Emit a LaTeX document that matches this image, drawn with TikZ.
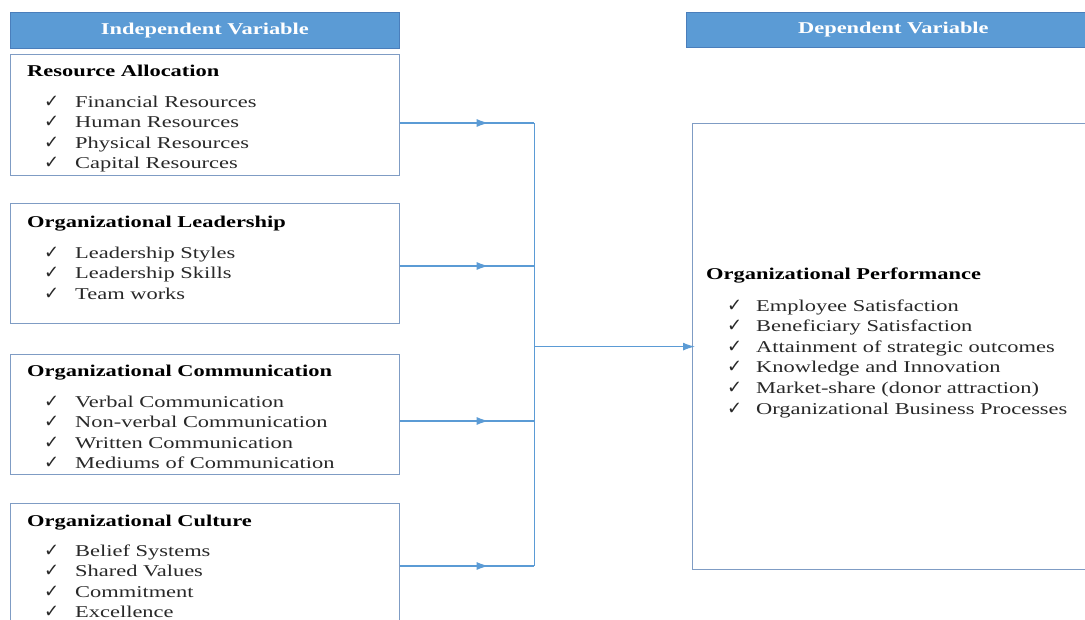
\documentclass[tikz,border=0pt]{standalone}
\usepackage{fontspec}
\setmainfont{Liberation Serif}[FakeStretch=1.36]
\newfontfamily\symfont{DejaVu Sans}
\usetikzlibrary{arrows.meta,positioning,decorations.markings}
\definecolor{hdrblue}{HTML}{5B9BD5}
\definecolor{hdrline}{HTML}{4A7EBB}
\definecolor{boxline}{HTML}{7F9CC4}
\definecolor{linkblue}{HTML}{5B9BD5}
\definecolor{itemgray}{RGB}{40,40,40}
\newcommand{\chk}{{\symfont\fontsize{18}{20}\selectfont ✓}}
\newcommand{\itm}[1]{\makebox[31pt][l]{\chk}#1}
\tikzset{
  hdr/.style={rectangle, draw=hdrline, fill=hdrblue, line width=0.8pt, text=white,
              font=\fontsize{16.5}{20}\selectfont\bfseries, inner sep=0pt, anchor=north west},
  catbox/.style={rectangle, draw=boxline, line width=1.2pt, inner sep=0pt, anchor=north west},
  ttl/.style={anchor=base west, inner sep=0pt, font=\fontsize{16.5}{20}\selectfont\bfseries},
  itmtxt/.style={anchor=base west, inner sep=0pt, text=itemgray, font=\fontsize{16.5}{20}\selectfont},
  link/.style={draw=linkblue, line width=1.3pt},
  tip/.style={-{Latex[length=12pt,width=8pt]}},
  midarr/.style={postaction={decorate}, decoration={markings,
                 mark=at position #1 with {\arrow{Latex[length=12pt,width=8pt]}}}},
}
\begin{document}
\begin{tikzpicture}[x=1pt, y=-1pt]
  \useasboundingbox (0,0) rectangle (1085,619);
  \clip (0,0) rectangle (1085,619);
  % headers
  \node[hdr, minimum width=389pt, minimum height=36pt] (iv) at (10,12) {Independent Variable};
  \node[hdr, minimum width=414pt, minimum height=35pt] (dv) at (686,12) {Dependent Variable};
  % independent variables
  \node[catbox, minimum width=389pt, minimum height=121pt] (ra) at (10,54) {};
  \node[catbox, minimum width=389pt, minimum height=120pt] (ol) at (10,203) {};
  \node[catbox, minimum width=389pt, minimum height=120pt] (oc) at (10,354) {};
  \node[catbox, minimum width=389pt, minimum height=140pt] (ocu) at (10,503) {};
  \node[ttl] (ra-t) at (27,76) {Resource Allocation};
  \foreach \t [count=\i from 0] in {Financial Resources, Human Resources, Physical Resources, Capital Resources}
    \node[itmtxt] (ra-\i) at (44,107+20.6*\i) {\itm{\t}};
  \node[ttl] (ol-t) at (27,227) {Organizational Leadership};
  \foreach \t [count=\i from 0] in {Leadership Styles, Leadership Skills, Team works}
    \node[itmtxt] (ol-\i) at (44,258+20.6*\i) {\itm{\t}};
  \node[ttl] (oc-t) at (27,376) {Organizational Communication};
  \foreach \t [count=\i from 0] in {Verbal Communication, Non-verbal Communication, Written Communication, Mediums of Communication}
    \node[itmtxt] (oc-\i) at (44,407+20.6*\i) {\itm{\t}};
  \node[ttl] (ocu-t) at (27,526) {Organizational Culture};
  \foreach \t [count=\i from 0] in {Belief Systems, Shared Values, Commitment, Excellence}
    \node[itmtxt] (ocu-\i) at (44,556+20.6*\i) {\itm{\t}};
  % dependent variable
  \node[catbox, minimum width=420pt, minimum height=446pt] (op) at (692,123) {};
  \node[ttl] (op-t) at (706,279) {Organizational Performance};
  \foreach \t [count=\i from 0] in {Employee Satisfaction, Beneficiary Satisfaction, Attainment of strategic outcomes,
      Knowledge and Innovation, Market-share (donor attraction), Organizational Business Processes}
    \node[itmtxt] (op-\i) at (727,311+20.6*\i) {\makebox[29pt][l]{\chk}\t};
  % connectors
  \foreach \b/\dy in {ra/69, ol/63, oc/67, ocu/63}
    \draw[link, midarr=0.66] ([yshift=-\dy pt]\b.north east) -- ++(134,0) coordinate (\b-j);
  \draw[link] (ra-j) -- (ocu-j);
  \draw[link, tip] (ra-j |- op.west) -- ([xshift=3pt]op.west);
\end{tikzpicture}
\end{document}
